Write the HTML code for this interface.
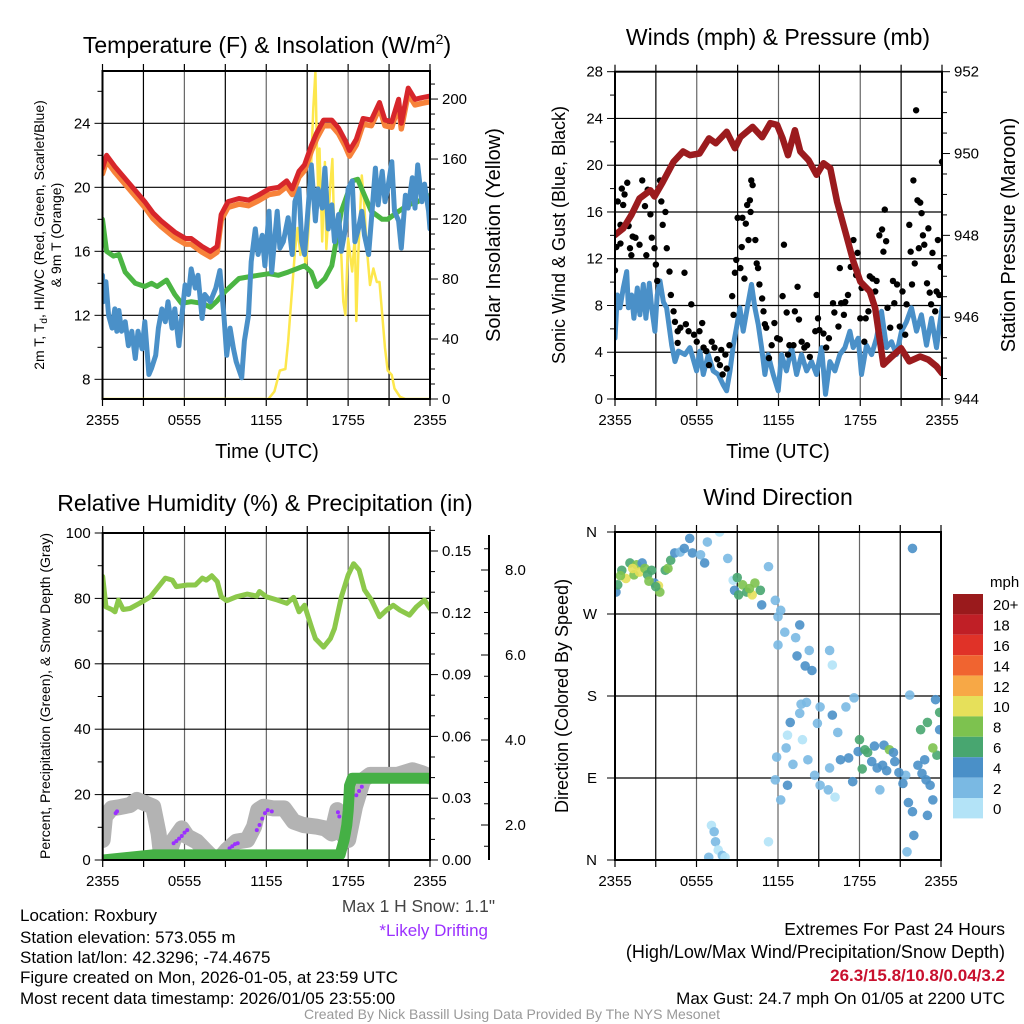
<!DOCTYPE html>
<html><head><meta charset="utf-8"><style>
html,body{margin:0;padding:0;background:#fff;}
svg{display:block;font-family:"Liberation Sans",sans-serif;}
</style></head><body>
<svg id="fig" width="1024" height="1024" viewBox="0 0 1024 1024" xmlns="http://www.w3.org/2000/svg">
<defs>
<clipPath id="c1"><rect x="102.5" y="71" width="327.5" height="328"/></clipPath>
<clipPath id="c2"><rect x="615" y="71.7" width="327" height="327.3"/></clipPath>
<clipPath id="c3"><rect x="102.7" y="533" width="327.3" height="327"/></clipPath>
<clipPath id="c4"><rect x="615" y="532" width="326" height="328"/></clipPath>
</defs>
<text x="267" y="53" font-size="23" text-anchor="middle">Temperature (F) &amp; Insolation (W/m<tspan dy="-9" font-size="14">2</tspan><tspan dy="9">)</tspan></text>
<text x="778" y="45" font-size="23" text-anchor="middle">Winds (mph) &amp; Pressure (mb)</text>
<text x="265" y="511" font-size="23" text-anchor="middle">Relative Humidity (%) &amp; Precipitation (in)</text>
<text x="778" y="505" font-size="23" text-anchor="middle">Wind Direction</text>
<text x="267" y="458" font-size="20" text-anchor="middle">Time (UTC)</text>
<text x="778" y="458" font-size="20" text-anchor="middle">Time (UTC)</text>
<text transform="translate(44,235) rotate(-90)" font-size="14" text-anchor="middle">2m T, T<tspan font-size="10" dy="3">d</tspan><tspan dy="-3">, HI/WC (Red, Green, Scarlet/Blue)</tspan></text>
<text transform="translate(61,235) rotate(-90)" font-size="14" text-anchor="middle">&amp; 9m T (Orange)</text>
<text transform="translate(500,235) rotate(-90)" font-size="20" text-anchor="middle">Solar Insolation (Yellow)</text>
<text transform="translate(565,235) rotate(-90)" font-size="18" text-anchor="middle">Sonic Wind &amp; Gust (Blue, Black)</text>
<text transform="translate(1015,235) rotate(-90)" font-size="20" text-anchor="middle">Station Pressure (Maroon)</text>
<text transform="translate(50,696) rotate(-90)" font-size="14" text-anchor="middle">Percent, Precipitation (Green), &amp; Snow Depth (Gray)</text>
<text transform="translate(568,696) rotate(-90)" font-size="18" text-anchor="middle">Direction (Colored By Speed)</text>
<g font-size="17">
<text x="20" y="921">Location: Roxbury</text>
<text x="20" y="943">Station elevation: 573.055 m</text>
<text x="20" y="963">Station lat/lon: 42.3296; -74.4675</text>
<text x="20" y="983">Figure created on Mon, 2026-01-05, at 23:59 UTC</text>
<text x="20" y="1004">Most recent data timestamp: 2026/01/05 23:55:00</text>
<text x="495" y="912" text-anchor="end" fill="#444" font-size="17.4">Max 1 H Snow: 1.1"</text>
<text x="488" y="936" text-anchor="end" fill="#9b30ff">*Likely Drifting</text>
<text x="1005" y="935" text-anchor="end" font-size="17.5">Extremes For Past 24 Hours</text>
<text x="1005" y="958" text-anchor="end" font-size="18">(High/Low/Max Wind/Precipitation/Snow Depth)</text>
<text x="1005" y="981" text-anchor="end" fill="#c8102e" font-weight="bold">26.3/15.8/10.8/0.04/3.2</text>
<text x="1005" y="1004" text-anchor="end">Max Gust: 24.7 mph On 01/05 at 2200 UTC</text>
<text x="512" y="1019" text-anchor="middle" font-size="14" fill="#999">Created By Nick Bassill Using Data Provided By The NYS Mesonet</text>
</g>
<g id="layer"></g>
</svg>
<script>
// ---------- data ----------
const timeLabels = ["2355","0555","1155","1755","2355"];
// Panel 1
const tempH = [0,0.3,0.9,1.4,2.1,3.1,3.7,4.3,5.3,6.1,6.5,7.3,7.9,8.4,8.7,9.2,10,10.7,11.4,12.2,12.9,13.5,13.9,14.4,14.8,15.3,15.7,16.2,16.8,17.3,17.8,18.1,18.6,19.1,19.7,20.3,20.7,21.2,21.7,21.9,22.4,22.9,23.4,24];
const tempV = [21.2,22.0,21.3,20.8,20.1,19.1,18.4,17.9,17.2,16.8,16.8,16.3,16.0,16.3,18.3,19.1,19.3,19.2,19.5,19.9,20.0,20.4,19.9,21.0,21.4,22.6,23.4,24.2,24.2,23.7,22.9,22.3,23.0,24.3,24.2,25.3,24.2,24.1,25.5,24.0,26.2,25.5,25.6,25.7];
const temp9mOffset = -0.35;
const dewH = [0,0.3,0.8,1.2,1.66,2.4,3.1,3.6,4.0,4.7,5.3,5.8,6.5,7.3,7.9,8.4,9.0,10.0,10.7,11.4,12.2,12.9,13.6,14.2,14.8,15.3,15.7,16.3,16.8,17.5,18.3,18.7,19.2,19.7,20.5,20.9,21.7,22.4,23.1,24];
const dewV = [18.0,16.0,15.7,15.8,14.7,14.0,13.8,14.0,13.8,14.2,13.3,12.75,12.85,12.75,12.5,12.9,13.5,14.3,14.4,14.5,14.6,14.5,14.7,14.9,15.1,14.7,13.8,14.3,15.1,18.5,20.4,20.5,19.5,18.5,18.0,18.0,18.5,18.9,19.1,19.5];
const wcH = [0,0.05,0.25,0.45,0.7,0.9,1.05,1.2,1.4,1.66,1.9,2.15,2.4,2.6,2.9,3.1,3.4,3.6,3.9,4.1,4.35,4.6,4.8,5.1,5.3,5.6,5.8,6.05,6.3,6.5,6.8,7.0,7.3,7.5,7.9,8.3,8.6,8.9,9.1,9.35,9.6,9.8,10.2,10.4,10.7,10.9,11.2,11.4,11.7,11.9,12.2,12.4,12.8,13.0,13.25,13.6,13.9,14.1,14.4,14.6,14.8,15.1,15.3,15.6,15.8,16.1,16.3,16.55,16.8,17.0,17.3,17.5,17.8,18.0,18.3,18.5,18.75,19.0,19.2,19.5,19.7,20.0,20.2,20.5,20.7,20.9,21.2,21.4,21.7,21.9,22.2,22.4,22.7,22.9,23.1,23.4,23.6,23.9,24];
const wcV = [14.5,12.85,14.1,12.0,11.2,12.4,11.0,12.3,11.0,11.6,10.1,11.0,9.3,11.0,9.9,11.6,8.3,8.7,9.5,11.2,12.4,11.6,12.85,11.2,12.4,10.1,11.8,13.9,13.3,14.9,13.7,14.5,11.8,13.3,12.85,13.7,14.8,12.0,9.5,11.2,9.9,9.1,8.1,10.4,12.0,15.35,17.4,15.8,17.0,15.1,18.5,14.7,18.5,16.2,16.6,18.1,15.8,19.1,19.9,16.6,15.8,19.1,21.4,17.9,19.9,18.7,21.2,17.4,18.9,16.6,18.3,16.0,17.4,19.9,20.4,16.6,17.4,18.5,17.0,15.8,17.9,21.2,18.9,21.0,19.1,19.9,21.6,18.5,17.9,16.2,19.5,18.7,20.6,18.7,21.4,19.1,20.2,18.5,17.4];
const solH = [0,12.16,12.6,13.0,13.4,13.6,13.9,14.1,14.3,14.5,14.7,14.9,15.1,15.3,15.45,15.6,15.7,15.8,15.9,16.1,16.3,16.4,16.7,16.85,17.0,17.2,17.5,17.65,17.8,18.0,18.3,18.5,18.6,18.75,19.0,19.2,19.35,19.6,19.85,20.1,20.3,20.7,20.9,21.2,21.4,21.8,22.2,24];
const solV = [0,0,5,19,20,38,74,98,114,96,109,87,114,158,194,218,174,140,167,105,158,100,143,160,105,114,96,65,56,107,85,109,52,98,149,127,103,76,87,78,78,34,19,16,7,1.5,0,0];
const tempTicks = [8,12,16,20,24];
const solTicks = [0,40,80,120,160,200];
// Panel 2
const windH = [0,0.17,0.37,0.61,0.86,0.98,1.22,1.39,1.64,1.83,2.08,2.27,2.52,2.69,2.93,3.1,3.3,3.55,3.79,4.16,4.4,4.65,5.13,5.5,5.99,6.23,6.48,6.85,7.21,7.58,7.95,8.19,8.44,8.68,8.92,9.17,9.41,9.78,10.02,10.27,10.51,10.76,11.0,11.24,11.61,11.98,12.22,12.59,12.96,13.33,13.69,14.06,14.43,14.79,15.16,15.45,15.77,16.14,16.5,16.87,17.24,17.48,17.85,18.09,18.46,18.83,19.19,19.56,19.93,20.29,20.66,21.03,21.39,21.76,22.13,22.49,22.86,23.23,23.6,24];
const windV = [5.2,8.9,7.8,9.5,10.9,7.8,8.9,6.9,9.5,7.2,9.8,6.9,9.9,7.8,5.8,8.9,10.1,8.3,7.8,4.6,3.2,4.1,3.8,4.4,2.4,4.1,2.1,3.8,2.4,2.1,1.2,0.7,2.4,4.6,6.1,7.8,5.8,8.3,9.8,7.8,6.4,4.4,2.1,3.8,2.1,0.7,3.8,2.4,4.4,2.1,3.8,2.4,3.2,2.1,4.4,0.4,3.2,2.4,3.8,4.4,5.8,4.4,5.2,2.1,4.6,3.8,5.2,7.5,4.4,4.9,3.8,5.8,6.6,7.8,5.8,7.2,4.6,6.9,4.4,7.8];
const presH = [0,0.6,1.2,1.8,2.6,2.9,3.5,4.3,5.0,5.5,6.2,6.9,7.4,8.2,8.8,9.2,10.1,10.8,11.4,11.9,12.3,12.7,13.2,13.6,14.2,14.8,15.3,15.8,16.3,16.9,17.5,18.0,18.7,19.1,19.7,20.2,21.0,21.6,22.4,23.0,23.6,24];
const presV = [948.01,948.17,948.5,948.9,949.1,948.95,949.3,949.8,950.05,949.96,950.0,950.37,950.25,950.53,950.13,950.4,950.65,950.4,950.74,950.7,950.37,949.96,950.57,950.05,949.84,949.48,949.76,949.64,948.82,948.09,947.36,946.87,946.63,946.22,944.84,945.0,945.24,944.92,945.04,944.96,944.8,944.63];
const gustH = [0,0.1,0.2,0.4,0.4,0.5,0.6,0.7,0.9,1.0,1.1,1.2,1.3,1.5,1.8,2.0,2.2,2.3,2.4,2.6,2.7,2.9,3.0,3.1,3.3,3.4,3.5,3.7,3.8,4.0,4.1,4.3,4.4,4.6,4.6,4.8,5.1,5.2,5.4,5.6,5.8,6.0,6.2,6.4,6.5,6.7,6.9,7.1,7.3,7.5,7.7,7.8,7.9,8.1,8.2,8.4,8.6,8.7,8.8,8.9,9.0,9.2,9.3,9.35,9.5,9.6,9.7,9.8,9.9,9.95,10.0,10.1,10.3,10.4,10.5,10.6,10.8,10.9,11.0,11.1,11.3,11.5,11.7,11.9,12.1,12.3,12.4,12.6,12.7,12.8,13.1,13.2,13.4,13.5,13.7,13.9,14.1,14.3,14.7,14.8,14.9,15.0,15.3,15.5,15.7,16.0,16.1,16.4,16.5,16.6,16.8,16.9,17.1,17.3,17.5,17.7,17.8,18.0,18.1,18.3,18.4,18.6,18.7,18.9,19.1,19.2,19.4,19.6,19.7,19.8,19.9,20.0,20.2,20.4,20.5,20.7,20.9,21.1,21.3,21.4,21.6,21.7,21.8,21.9,22.0,22.1,22.2,22.3,22.4,22.5,22.6,22.7,22.9,23.0,23.1,23.2,23.3,23.5,23.6,23.7,23.8,23.9,24];
const gustV = [11,13,16.9,14.9,13.3,18,16.6,17.5,18.5,14.8,12.9,12.3,13.9,13.8,13.2,18.7,16.5,12.3,17.9,15.8,13.8,12.9,11.5,10.1,18.7,16.9,14.9,16,12.9,10.9,8.9,7.5,6.6,5.8,4.8,6.1,10.8,6.4,5.8,8.1,5.5,4.9,5.8,6.5,4.4,4.1,2.9,4.9,4.4,3.4,2.9,4.2,2.1,3.8,2.6,4.6,8.8,7.2,10.8,11.9,15.5,11.2,13,15.5,10.3,15,16.6,13.6,17,16,18.7,18.3,13.6,11.6,11.2,9.8,8.6,7.5,6.4,6.1,3.5,4.6,6.5,5.2,5.1,8.8,13.2,7.4,3.8,4.6,4.6,7.5,9.6,6.8,4.9,4.4,4.6,3.6,5.8,8.9,6.9,5.9,5.6,4.4,5.2,8.2,7.4,6.2,11.2,8.2,7.2,8.3,8.9,11.3,13.6,10.6,12.5,6.9,9.5,4.9,6.9,7.5,10.5,10.3,9.2,10.1,14,14.5,12.6,16.2,13.5,7.8,6.1,10.1,8.2,9.8,6.2,9.2,5.5,8.1,14.9,12.6,9.8,18.7,11.6,24.7,17.0,12.9,16.8,15.9,14,13.2,9.9,14.6,9.1,8.1,12.5,7.5,9.2,13.6,8.9,11.3,20.3];
const windTicks = [0,4,8,12,16,20,24,28];
const presTicks = [944,946,948,950,952];
// Panel 3
const rhH = [0,0.24,0.66,0.9,1.15,1.5,2.0,2.7,3.5,4.1,4.6,5.1,5.4,6.2,6.8,7.3,7.6,8.0,8.4,8.7,9.1,9.8,10.6,11.3,11.5,12.0,12.8,13.5,14.0,14.4,14.8,15.3,15.6,16.2,16.7,17.0,17.5,18.0,18.4,18.8,19.2,19.7,20.3,20.8,21.3,21.8,22.5,23.0,23.6,24];
const rhV = [86.7,77.4,76.6,75.9,79.5,76.6,76.9,78.5,80.5,83.6,86.2,85.6,83.6,84.1,84.1,86.2,85.6,86.9,85.1,80.5,79.3,80.5,81.3,80.7,82.1,80.5,79.5,78.5,80.3,75.9,77.9,71.3,67.7,65.1,67.7,70.8,80.5,87.2,90.6,88.7,82.6,79.5,74.4,76.4,77.9,76.4,74.9,77.4,79.5,76.9];
const snowH = [0,0.17,0.66,1.27,2.0,2.5,3.1,3.7,4.1,4.3,4.7,5.2,5.8,6.2,6.9,7.5,8.0,8.5,9.1,9.8,10.6,11.1,11.4,11.8,12.5,13.3,14.0,14.7,15.7,16.3,16.8,17.2,17.5,18.0,18.5,19.1,19.6,20.6,21.6,22.7,23.4,24];
const snowV = [1.65,2.2,2.39,2.42,2.47,2.59,2.51,2.43,1.80,1.25,1.18,1.65,1.92,1.73,1.61,1.41,1.25,1.18,1.41,1.61,1.65,1.96,2.35,2.43,2.39,2.39,2.08,2.00,1.96,1.92,1.80,2.35,1.80,1.65,2.43,3.06,3.18,3.18,3.18,3.29,3.22,3.14];
const precipH = [0,3.7,17.4,17.7,17.8,17.9,18.0,18.05,18.1,18.3,24];
const precipV = [0,0.0025,0.0025,0.0097,0.013,0.017,0.024,0.030,0.036,0.0397,0.0397];
const driftH = [0.95,1.05,5.2,5.4,5.6,5.8,6.0,6.2,9.3,9.5,9.7,9.9,11.3,11.5,11.7,11.9,12.1,12.4,17.25,17.35,18.6,18.8,19.0];
const driftV = [2.28,2.32,1.57,1.62,1.68,1.74,1.82,1.88,1.45,1.5,1.55,1.57,1.88,2.0,2.15,2.28,2.35,2.32,2.3,2.2,2.7,2.8,2.9];
const rhTicks = [0,20,40,60,80,100];
const precipTicks = [0.00,0.03,0.06,0.09,0.12,0.15];
const snowTicks = [2.0,4.0,6.0,8.0];
// Panel 4
const dirH = [0.07,0.2,0.5,0.8,1.1,1.4,1.6,1.8,2.0,2.2,2.4,2.7,2.9,3.2,3.3,3.7,3.9,4.1,4.4,4.8,5.1,5.5,5.7,6.3,6.6,6.8,7.7,8.3,8.7,8.8,9.1,9.4,9.7,10.1,10.3,10.7,10.8,11.3,11.8,12.2,12.0,12.5,12.0,13.3,13.6,13.4,14.0,14.5,14.3,15.8,16.0,17.6,17.0,16.0,15.1,14.1,13.7,13.6,12.9,12.7,12.6,11.9,11.8,12.7,12.2,11.3,13.8,14.2,14.7,15.1,15.7,16.2,15.8,16.6,17.5,17.9,18.0,18.4,18.9,19.3,19.8,20.2,19.7,20.6,19.5,21.4,21.6,21.9,22.0,21.5,21.9,21.7,23.6,23.9,23.7,22.3,22.8,23.2,23.4,23.0,22.5,23.0,23.4,22.9,23.9,7.1,7.3,7.4,7.6,7.9,6.9,8.1,0.4,1.3,2.5,3.0,9.0,9.9,17.2,18.6,19.1,20.0,20.9,16.4,14.9,13.1,18.2,21.2,22.6,20.5];
const dirV = [294,302,318,309,326,313,324,316,326,320,313,318,304,301,294,318,320,329,337,338,342,353,337,335,326,349,360,331,307,296,291,302,294,291,304,296,280,322,285,274,267,250,236,244,258,224,213,208,230,230,214,178,168,159,168,173,171,161,151,137,123,113,88,82,66,20,132,110,93,82,77,69,101,110,86,119,132,121,108,101,126,121,104,108,77,93,63,53,27,9,342,181,176,143,115,104,110,82,66,49,143,151,123,88,162,38,31,20,11,5,3,3,312,320,306,300,310,298,112,118,125,98,96,140,150,105,100,84,95,118];
const dirSpd = [4,6,6,10,6,8,8,10,4,8,6,6,4,10,8,6,8,6,4,2,4,4,4,2,4,2,0,2,0,4,6,8,6,10,8,6,4,2,2,2,2,2,2,2,4,4,4,4,2,2,0,2,2,4,2,2,2,2,4,0,2,2,2,4,2,0,0,2,2,2,2,0,2,4,4,4,6,6,4,4,4,8,4,4,2,2,4,4,4,2,4,2,4,4,6,4,4,4,4,4,6,6,8,4,6,0,2,2,0,2,2,0,8,10,8,6,6,8,4,6,4,4,4,2,2,2,6,4,4,4];
const dirLabels = ["N","E","S","W","N"];
const dirTicks = [0,90,180,270,360];
const legendLabels = ["0","2","4","6","8","10","12","14","16","18","20+"];
const legendColors = ["#b3e3f7","#7ab9e3","#4a90c8","#48a670","#7dc24f","#e6e05a","#f7a846","#f06430","#e03228","#c01f26","#9a1a1c"];

// ---------- helpers ----------
const NS = "http://www.w3.org/2000/svg";
const layer = document.getElementById("layer");
function mk(tag, attrs, parent){ const e=document.createElementNS(NS,tag); for(const k in attrs) e.setAttribute(k,attrs[k]); (parent||layer).appendChild(e); return e; }
function lin(d0,d1,r0,r1){ return v => r0 + (v-d0)*(r1-r0)/(d1-d0); }
function pathD(hs, vs, sx, sy){ return hs.map((h,i)=>(i?"L":"M")+sx(hs[i]).toFixed(1)+","+sy(vs[i]).toFixed(1)).join(""); }

const P = {
 p1:{x0:102.5,x1:430,y0:71,y1:399,clip:"c1"},
 p2:{x0:615,x1:942,y0:71.7,y1:399,clip:"c2"},
 p3:{x0:102.7,x1:430,y0:533,y1:860,clip:"c3"},
 p4:{x0:615,x1:941,y0:532,y1:860,clip:"c4"}
};
function frame(p, key){
  const sx = lin(0,24,p.x0,p.x1);
  for(let h=0;h<=24;h+=3){
    const x=sx(h);
    const g=mk("line",{x1:x,y1:p.y0,x2:x,y2:p.y1,stroke:(h%6==0)?"#666":"#000","stroke-width":1.2});
    
    
    const tb=mk("line",{x1:x,y1:p.y1,x2:x,y2:p.y1+7,stroke:"#000","stroke-width":1.2});
    
    
    const tt=mk("line",{x1:x,y1:p.y0,x2:x,y2:p.y0-7,stroke:"#000","stroke-width":1.2});
    
    
  }
  timeLabels.forEach((l,i)=>{
    const t=mk("text",{x:sx(i*6),y:p.y1+26,"font-size":15,"text-anchor":"middle"}); t.textContent=l;
    
    
  });
  return sx;
}
function hgrid(p,key,ys){ ys.forEach(y=>{ const g=mk("line",{x1:p.x0,y1:y,x2:p.x1,y2:y,stroke:"#000","stroke-width":1.2});
  
   }); }
function border(p,key){ const r=mk("rect",{x:p.x0,y:p.y0,width:p.x1-p.x0,height:p.y1-p.y0,fill:"none",stroke:"#000","stroke-width":2});
  
   }
function yTicks(xAxis, dir, sy, ticks, minorStep, lo, hi, fmt, key){
  for(let v=lo; v<=hi+1e-9; v+=minorStep){
    const y=sy(v); const major=ticks.some(t=>Math.abs(t-v)<1e-6);
    const l=mk("line",{x1:xAxis,y1:y,x2:xAxis+dir*(major?8:5),y2:y,stroke:"#000","stroke-width":1});
    
    
  }
  ticks.forEach(v=>{
    const t=mk("text",{x:xAxis+dir*12,y:sy(v)+5,"font-size":15,"text-anchor":dir<0?"end":"start"}); t.textContent=fmt(v);
    
    
  });
}
function line(hs,vs,sx,sy,color,w,clip,name){
  const e=mk("path",{d:pathD(hs,vs,sx,sy),fill:"none",stroke:color,"stroke-width":w,"stroke-linejoin":"round","stroke-linecap":"round","clip-path":"url(#"+clip+")"});
  
  
  return e;
}

// ---------- Panel 1 ----------
(function(){
  const p=P.p1; const sx=frame(p,"temp");
  const sy=lin(27.27,6.77,p.y0,p.y1);
  const sy2=lin(0,218.7,p.y1,p.y0);
  hgrid(p,"temp",tempTicks.map(sy));
  line(solH,solV,sx,sy2,"#fde74c",2.5,p.clip,"solar-insolation-line");
  line(dewH,dewV,sx,sy,"#4bb543",5,p.clip,"dewpoint-line");
  line(wcH,wcV,sx,sy,"#4a90c8",5,p.clip,"wind-chill-line");
  line(tempH,tempV.map(v=>v+temp9mOffset),sx,sy,"#f7823a",5.5,p.clip,"temperature-9m-line");
  line(tempH,tempV,sx,sy,"#d7262b",5,p.clip,"temperature-2m-line");
  border(p,"temp");
  yTicks(p.x0,-1,sy,tempTicks,2,8,26,v=>String(v),"temp");
  yTicks(p.x1,1,sy2,solTicks,10,0,210,v=>String(v),"insolation");
})();

// ---------- Panel 2 ----------
(function(){
  const p=P.p2; const sx=frame(p,"wind");
  const sy=lin(0,28,p.y1,p.y0);
  const sy2=lin(944,952,p.y1,p.y0);
  hgrid(p,"wind",windTicks.map(sy));
  line(windH,windV,sx,sy,"#4a90c8",5,p.clip,"sonic-wind-line");
  gustH.forEach((h,i)=>{
    const c=mk("circle",{cx:sx(h),cy:sy(gustV[i]),r:3.2,fill:"#000","clip-path":"url(#c2)"});
    
    
  });
  line(presH,presV,sx,sy2,"#9b1b1e",6.5,p.clip,"pressure-line");
  border(p,"wind");
  yTicks(p.x0,-1,sy,windTicks,2,0,28,v=>String(v),"wind");
  yTicks(p.x1,1,sy2,presTicks,0.5,944,952,v=>String(v),"pressure");
})();

// ---------- Panel 3 ----------
(function(){
  const p=P.p3; const sx=frame(p,"rh");
  const sy=lin(0,100,p.y1,p.y0);
  const syP=lin(0,0.15,p.y1,551);
  const syS=lin(2,8,825,570);
  hgrid(p,"rh",[20,40,60,80].map(sy));
  line(snowH,snowV,sx,syS,"#b3b3b3",16,p.clip,"snow-depth-line");
  driftH.forEach((h,i)=>{
    const c=mk("circle",{cx:sx(h),cy:syS(driftV[i]),r:2,fill:"#9b30ff","clip-path":"url(#c3)"});
    
    
  });
  line(precipH,precipV,sx,syP,"#45b045",11,p.clip,"precipitation-line");
  line(rhH,rhV,sx,sy,"#8cc84b",5,p.clip,"relative-humidity-line");
  border(p,"rh");
  yTicks(p.x0,-1,sy,rhTicks,10,0,100,v=>String(v),"rh");
  yTicks(p.x1,1,syP,precipTicks,0.01,0,0.16,v=>v.toFixed(2),"precip");
  const sa=mk("line",{x1:489,y1:535,x2:489,y2:860,stroke:"#000","stroke-width":2});
  
  
  for(let v=1.5; v<=8.5+1e-9; v+=0.5){
    const major=snowTicks.some(t=>Math.abs(t-v)<1e-6);
    const l=mk("line",{x1:489,y1:syS(v),x2:489-(major?8:5),y2:syS(v),stroke:"#000","stroke-width":1});
    
    
  }
  snowTicks.forEach(v=>{
    const t=mk("text",{x:505,y:syS(v)+5,"font-size":15}); t.textContent=v.toFixed(1);
    
    
  });
})();

// ---------- Panel 4 ----------
(function(){
  const p=P.p4; const sx=frame(p,"dir");
  const sy=lin(0,360,p.y1,p.y0);
  hgrid(p,"dir",dirTicks.map(sy));
  dirH.forEach((h,i)=>{
    const idx=Math.min(10,Math.floor(dirSpd[i]/2));
    const c=mk("circle",{cx:sx(h),cy:sy(dirV[i]),r:4.8,fill:legendColors[idx],"fill-opacity":0.9,"clip-path":"url(#c4)"});
    
    
  });
  border(p,"dir");
  dirTicks.forEach((v,i)=>{
    const l=mk("line",{x1:p.x0,y1:sy(v),x2:p.x0-8,y2:sy(v),stroke:"#000","stroke-width":1});
    
    
    const t=mk("text",{x:p.x0-18,y:sy(v)+5,"font-size":15,"text-anchor":"end"}); t.textContent=dirLabels[i];
    
    
  });
  const u=mk("text",{x:990,y:587,"font-size":15}); u.textContent="mph";
  
  
  const bh=20.4, top=594;
  legendLabels.forEach((l,i)=>{
    const k=10-i;
    const r=mk("rect",{x:953,y:top+i*bh,width:30,height:bh,fill:legendColors[k]});
    
    
    const t=mk("text",{x:993,y:top+i*bh+bh/2+6,"font-size":15}); t.textContent=legendLabels[k];
    
    
  });
})();
</script>
</body></html>
